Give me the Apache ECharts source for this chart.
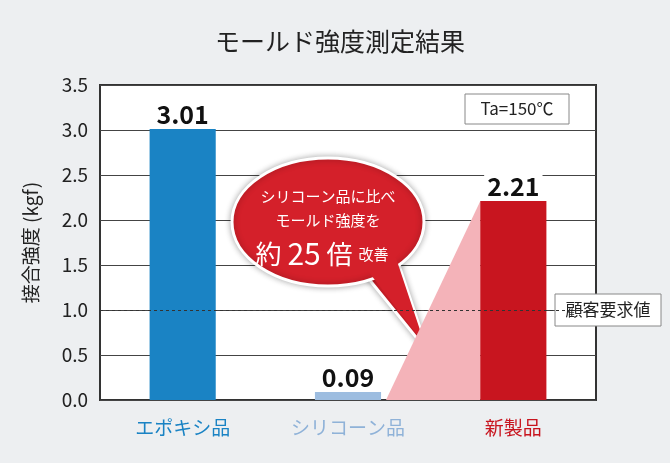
<!DOCTYPE html>
<html>
<head>
<meta charset="utf-8">
<script src="https://cdn.jsdelivr.net/npm/echarts@6/dist/echarts.min.js"></script>
<style>
  body { margin: 0; background: #edeff1; }
  #chart { width: 670px; height: 463px; }
</style>
</head>
<body>
<div id="chart"></div>
<script>
  const categories = ['エポキシ品', 'シリコーン品', '新製品']
  const values = [3.01, 0.09, 2.21]
  const barColors = ['#1a83c4', '#9dbde0', '#c8151f']
  const labelColors = ['#1a83c4', '#8fb2d8', '#c8151f']
  const requirement = 1.0
  const F = '"Noto Sans CJK JP", "Noto Sans", sans-serif'

  const chart = echarts.init(document.getElementById('chart'))
  const option = {
    backgroundColor: '#edeff1',
    textStyle: { fontFamily: F },
    title: {
      text: 'モールド強度測定結果', left: 335, top: 24, textAlign: 'center',
      textStyle: { fontSize: 25, fontWeight: 'normal', color: '#222', fontFamily: F }
    },
    grid: { left: 100, right: 74, top: 85, bottom: 63, show: true, backgroundColor: '#fff', borderColor: '#333', borderWidth: 2 },
    xAxis: {
      type: 'category', data: categories,
      axisLine: { show: false }, axisTick: { show: false },
      axisLabel: {
        margin: 18, fontSize: 19,
        color: (v, i) => labelColors[i]
      }
    },
    yAxis: {
      type: 'value', min: 0, max: 3.5, interval: 0.5,
      name: '接合強度 (kgf)', nameLocation: 'middle', nameGap: 60,
      nameTextStyle: { fontSize: 19, color: '#222' },
      axisLine: { show: false }, axisTick: { show: false },
      axisLabel: { fontSize: 19, color: '#222', margin: 12, formatter: v => v.toFixed(1) },
      splitLine: { lineStyle: { color: '#444', width: 1 } }
    },
    series: [{
      type: 'bar', barWidth: '40%', z: 3,
      data: values.map((v, i) => ({ value: v, itemStyle: { color: barColors[i] } })),
      label: { show: true, position: 'top', fontSize: 25, fontWeight: 'bold', color: '#111', distance: 2,
        backgroundColor: '#fff', padding: [0, 3], formatter: p => p.value.toFixed(2) },
      markLine: {
        silent: true, symbol: 'none', label: { show: false },
        lineStyle: { type: [3, 3], color: '#333', width: 1 },
        data: [{ yAxis: requirement }]
      }
    }]
  }
  chart.setOption(option)

  const pBottom = chart.convertToPixel({ gridIndex: 0 }, [1, 0])
  const pTop = chart.convertToPixel({ gridIndex: 0 }, [2, values[2]])
  const pReq = chart.convertToPixel({ gridIndex: 0 }, [0, requirement])
  const bw = 33
  chart.setOption({
    graphic: [
      { type: 'polygon', z: 1, shape: { points: [[pBottom[0] + bw + 5, pBottom[1]], [pTop[0] - bw, pTop[1]], [pTop[0] - bw, pBottom[1]]] },
        style: { fill: '#f4b3b9' } },
      { type: 'group', z: 10, children: [
        { type: 'polygon', shape: { points: [[355, 262], [398, 262], [428, 352]] }, style: { fill: '#d4202a', stroke: '#fff', lineWidth: 3, shadowBlur: 6, shadowColor: 'rgba(0,0,0,0.3)' } },
        { type: 'ellipse', shape: { cx: 328, cy: 222, rx: 96, ry: 64 }, style: { fill: '#d4202a', stroke: '#fff', lineWidth: 3, shadowBlur: 6, shadowColor: 'rgba(0,0,0,0.3)' } },
        { type: 'polygon', shape: { points: [[358, 258], [396, 258], [425, 345]] }, style: { fill: '#d4202a' } },
        { type: 'text', style: { x: 328, y: 196, text: 'シリコーン品に比べ', fill: '#fff', fontSize: 15, fontFamily: F, align: 'center', verticalAlign: 'middle' } },
        { type: 'text', style: { x: 328, y: 220, text: 'モールド強度を', fill: '#fff', fontSize: 15, fontFamily: F, align: 'center', verticalAlign: 'middle' } },
        { type: 'text', style: { x: 322, y: 254, text: '{a|約 }{b|25}{a| 倍 }{c|改善}', fill: '#fff', fontFamily: F, align: 'center', verticalAlign: 'middle',
          rich: { a: { fontSize: 26, fill: '#fff', fontFamily: F }, b: { fontSize: 30, fill: '#fff', fontFamily: F }, c: { fontSize: 15, fill: '#fff', fontFamily: F } } } }
      ] },
      { type: 'group', z: 10, children: [
        { type: 'rect', shape: { x: 465, y: 94, width: 104, height: 30 }, style: { fill: '#fff', stroke: '#888', lineWidth: 1 } },
        { type: 'text', style: { x: 517, y: 109, text: 'Ta=150℃', fill: '#222', fontSize: 17, fontFamily: F, align: 'center', verticalAlign: 'middle' } }
      ] },
      { type: 'group', z: 10, children: [
        { type: 'rect', shape: { x: 555, y: pReq[1] - 16, width: 106, height: 32 }, style: { fill: '#fff', stroke: '#888', lineWidth: 1 } },
        { type: 'text', style: { x: 608, y: pReq[1], text: '顧客要求値', fill: '#222', fontSize: 17, fontFamily: F, align: 'center', verticalAlign: 'middle' } }
      ] }
    ]
  })
</script>
</body>
</html>
